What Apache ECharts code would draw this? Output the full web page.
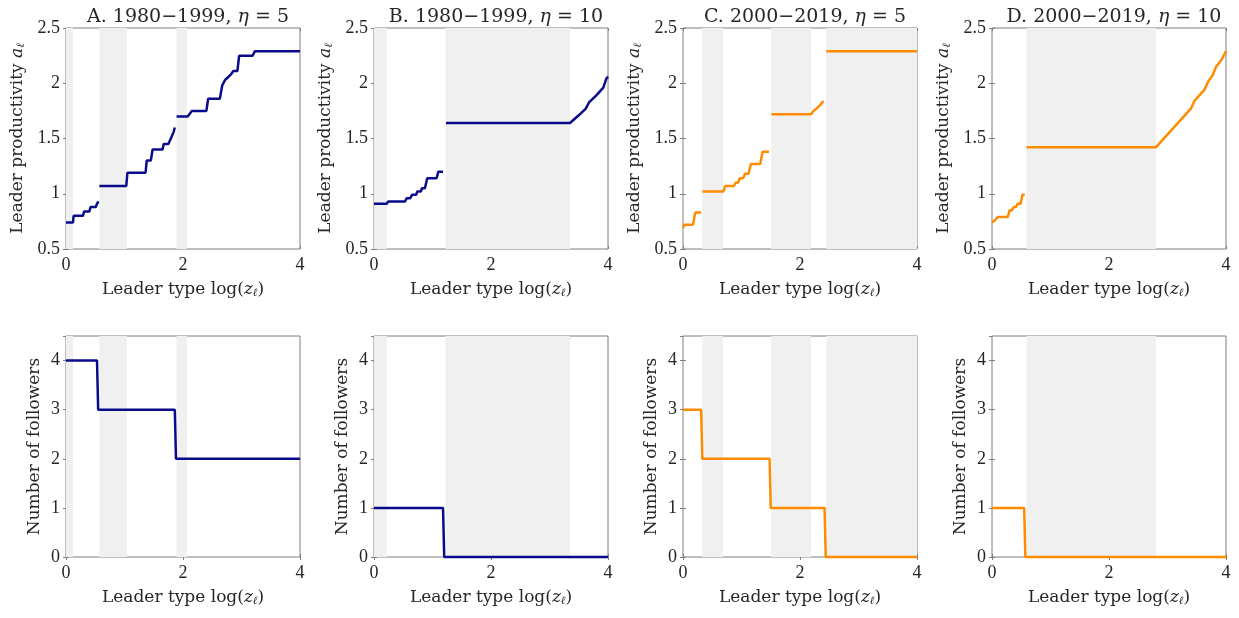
<!DOCTYPE html>
<html>
<head>
<meta charset="utf-8">
<script src="https://cdn.jsdelivr.net/npm/echarts@6/dist/echarts.min.js"></script>
<style>
  html, body { margin: 0; padding: 0; background: #fff; }
  #main { width: 1239px; height: 618px; }
</style>
</head>
<body>
<div id="main"></div>
<script>
// panel titles
var titles = [
    'A. 1980\u22121999, {i|\u03b7} = 5',
    'B. 1980\u22121999, {i|\u03b7} = 10',
    'C. 2000\u22122019, {i|\u03b7} = 5',
    'D. 2000\u22122019, {i|\u03b7} = 10'
];
var lineColors = ['#0a0a8c', '#0a0a8c', '#ff8c00', '#ff8c00'];

// shaded ranges of log(z)
var shadeA = [[0, 0.12], [0.57, 1.04], [1.89, 2.07]];
var shadeB = [[0, 0.22], [1.225, 3.35]];
var shadeC = [[0.33, 0.685], [1.508, 2.19], [2.447, 4]];
var shadeD = [[0.587, 2.80]];

// leader productivity, one array per piece
var prodA1 = [[0,0.74],[0.12,0.74],[0.13,0.80],[0.29,0.80],[0.31,0.84],[0.40,0.84],[0.42,0.88],[0.51,0.88],[0.53,0.91],[0.555,0.93]];
var prodA2 = [[0.57,1.07],[1.03,1.07],[1.05,1.19],[1.36,1.19],[1.38,1.30],[1.45,1.30],[1.48,1.40],[1.65,1.40],[1.67,1.45],[1.75,1.45],[1.80,1.51],[1.84,1.56],[1.86,1.60]];
var prodA3 = [[1.89,1.70],[2.08,1.70],[2.11,1.72],[2.15,1.75],[2.40,1.75],[2.43,1.86],[2.63,1.86],[2.67,1.98],[2.72,2.03],[2.76,2.05],[2.82,2.08],[2.86,2.11],[2.93,2.11],[2.96,2.25],[3.19,2.25],[3.23,2.29],[4,2.29]];
var prodB1 = [[0,0.91],[0.22,0.91],[0.24,0.93],[0.53,0.93],[0.56,0.96],[0.62,0.96],[0.65,0.99],[0.72,0.99],[0.74,1.02],[0.80,1.02],[0.82,1.05],[0.87,1.05],[0.91,1.14],[1.07,1.14],[1.10,1.20],[1.18,1.20]];
var prodB2 = [[1.23,1.64],[3.35,1.64],[3.50,1.71],[3.62,1.77],[3.68,1.83],[3.80,1.89],[3.92,1.96],[3.97,2.04],[4,2.06]];
var prodC1 = [[0,0.69],[0.03,0.72],[0.17,0.72],[0.21,0.83],[0.31,0.83]];
var prodC2 = [[0.33,1.02],[0.69,1.02],[0.72,1.07],[0.87,1.07],[0.90,1.10],[0.94,1.10],[0.97,1.14],[1.03,1.14],[1.06,1.18],[1.12,1.18],[1.16,1.27],[1.32,1.27],[1.36,1.38],[1.47,1.38]];
var prodC3 = [[1.51,1.72],[2.19,1.72],[2.23,1.75],[2.28,1.77],[2.34,1.80],[2.40,1.84]];
var prodC4 = [[2.45,2.29],[4,2.29]];
var prodD1 = [[0,0.74],[0.05,0.76],[0.10,0.79],[0.27,0.79],[0.30,0.85],[0.34,0.85],[0.37,0.88],[0.41,0.88],[0.44,0.91],[0.49,0.91],[0.52,0.99],[0.56,0.99]];
var prodD2 = [[0.59,1.42],[2.80,1.42],[3.40,1.77],[3.46,1.84],[3.63,1.94],[3.70,2.02],[3.77,2.07],[3.83,2.15],[3.92,2.21],[4,2.29]];

// number of followers
var follA = [[0,4],[0.53,4],[0.55,3],[1.86,3],[1.88,2],[4,2]];
var follB = [[0,1],[1.18,1],[1.20,0],[4,0]];
var follC = [[0,3],[0.31,3],[0.33,2],[1.48,2],[1.50,1],[2.42,1],[2.44,0],[4,0]];
var follD = [[0,1],[0.55,1],[0.57,0],[4,0]];

var shades = [shadeA, shadeB, shadeC, shadeD];
var prods = [[prodA1, prodA2, prodA3], [prodB1, prodB2], [prodC1, prodC2, prodC3, prodC4], [prodD1, prodD2]];
var folls = [follA, follB, follC, follD];

var font = 'DejaVu Serif';
var tickFont = 'Liberation Serif';
var txt = '#262626';
var boxColor = '#7f7f7f';
var lefts = [66, 374, 683, 992];
var tops = [28, 336];
var W = 234, H = 221;

var subRich = {
    i: { fontStyle: 'italic', fontFamily: font, fontSize: 17, color: txt },
    s: { fontStyle: 'italic', fontFamily: font, fontSize: 11, color: txt, padding: [7, 0, 0, 0] }
};

var option = { animation: false, title: [], grid: [], xAxis: [], yAxis: [], series: [] };

for (var c = 0; c < 4; c++) {
    option.title.push({
        text: titles[c],
        left: lefts[c] + W / 2,
        top: 3,
        textAlign: 'center',
        textStyle: {
            fontFamily: font, fontSize: 19, fontWeight: 'normal', color: txt,
            rich: { i: { fontStyle: 'italic', fontFamily: font, fontSize: 19, color: txt } }
        }
    });
}

for (var r = 0; r < 2; r++) {
    for (var c = 0; c < 4; c++) {
        var g = option.grid.length;
        option.grid.push({
            left: lefts[c], top: tops[r], width: W, height: H,
            show: true, borderColor: boxColor, borderWidth: 1, backgroundColor: 'transparent'
        });
        // bottom x axis
        option.xAxis.push({
            type: 'value', gridIndex: g, min: 0, max: 4, interval: 2,
            name: 'Leader type log({i|z}{s|\u2113})', nameLocation: 'middle', nameGap: 32,
            nameTextStyle: { fontFamily: font, fontSize: 17, color: txt, rich: subRich },
            axisLine: { show: false },
            axisTick: { inside: true, length: 3, lineStyle: { color: boxColor } },
            axisLabel: { fontFamily: tickFont, fontSize: 18, color: txt, margin: 7 },
            splitLine: { show: false }
        });
        // top mirror axis
        option.xAxis.push({
            type: 'value', gridIndex: g, min: 0, max: 4, interval: 2, position: 'top',
            axisLine: { show: false },
            axisTick: { inside: true, length: 3, lineStyle: { color: boxColor } },
            axisLabel: { show: false }, splitLine: { show: false }
        });
        var yName = r === 0 ? 'Leader productivity {i|a}{s|\u2113}' : 'Number of followers';
        option.yAxis.push({
            type: 'value', gridIndex: g,
            min: r === 0 ? 0.5 : 0, max: r === 0 ? 2.5 : 4.5, interval: r === 0 ? 0.5 : 1,
            name: yName, nameLocation: 'middle', nameGap: r === 0 ? 39 : 23,
            nameTextStyle: { fontFamily: font, fontSize: 17, color: txt, rich: subRich },
            axisLine: { show: false },
            axisTick: { inside: true, length: 3, lineStyle: { color: boxColor } },
            axisLabel: { fontFamily: tickFont, fontSize: 18, color: txt, margin: 6, showMaxLabel: r === 0 },
            splitLine: { show: false }
        });
        option.yAxis.push({
            type: 'value', gridIndex: g, position: 'right',
            min: r === 0 ? 0.5 : 0, max: r === 0 ? 2.5 : 4.5, interval: r === 0 ? 0.5 : 1,
            axisLine: { show: false },
            axisTick: { inside: true, length: 3, lineStyle: { color: boxColor } },
            axisLabel: { show: false }, splitLine: { show: false }
        });

        var pieces = r === 0 ? prods[c] : [folls[c]];
        for (var k = 0; k < pieces.length; k++) {
            var s = {
                type: 'line', xAxisIndex: g * 2, yAxisIndex: g * 2,
                data: pieces[k], showSymbol: false, symbol: 'none', clip: false,
                lineStyle: { color: lineColors[c], width: 2.5 }, z: 3
            };
            if (k === 0) {
                s.markArea = {
                    silent: true,
                    itemStyle: { color: '#f0f0f0' },
                    data: shades[c].map(function (p) { return [{ xAxis: p[0] }, { xAxis: p[1] }]; })
                };
            }
            option.series.push(s);
        }
    }
}

var chart = echarts.init(document.getElementById('main'));
chart.setOption(option);
</script>
</body>
</html>
